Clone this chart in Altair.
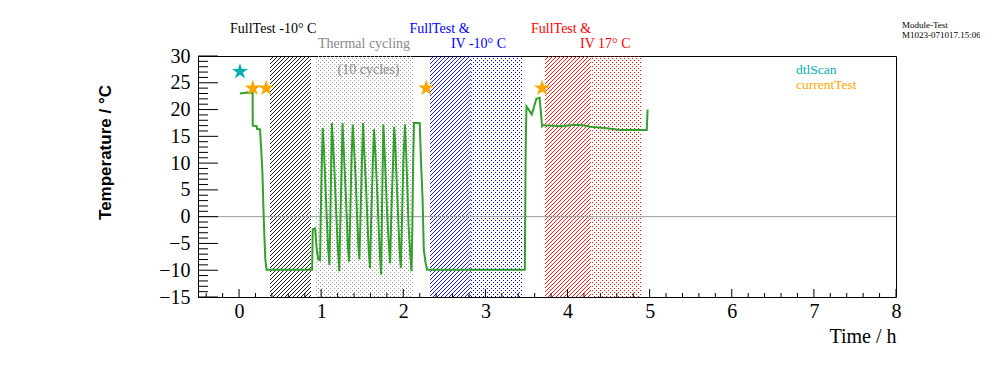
import altair as alt
import numpy as np
import pandas as pd

# ---------------- data ----------------
time_h = [
    0.01, 0.10, 0.165, 0.167, 0.215, 0.217, 0.255, 0.27, 0.285, 0.30, 0.31, 0.32, 0.335,
    0.89, 0.897, 0.926, 0.946, 0.966, 0.987,
    0.995, 1.007, 1.019, 1.035, 1.05, 1.07, 1.085, 1.10,
    1.11, 1.12, 1.13, 1.145, 1.16, 1.18, 1.20, 1.22,
    1.235, 1.25, 1.26, 1.275, 1.29, 1.31, 1.325, 1.34,
    1.355, 1.37, 1.385, 1.40, 1.42, 1.44, 1.455, 1.465,
    1.48, 1.495, 1.51, 1.525, 1.545, 1.565, 1.58, 1.595,
    1.61, 1.63, 1.644, 1.66, 1.68, 1.70, 1.715, 1.73,
    1.74, 1.75, 1.757, 1.77, 1.785, 1.805, 1.825, 1.84,
    1.855, 1.875, 1.89, 1.905, 1.92, 1.94, 1.955, 1.97,
    1.985, 2.00, 2.02, 2.035, 2.05, 2.065, 2.085, 2.10,
    2.11, 2.12, 2.13, 2.20, 2.215, 2.235, 2.25, 2.27, 2.29,
    3.48, 3.49, 3.495, 3.50, 3.565, 3.62, 3.66, 3.69, 3.70,
    3.78, 3.91, 4.07, 4.17, 4.28, 4.48, 4.64, 4.965, 4.975,
]
temp_c = [
    23.0, 23.2, 23.1, 17.0, 16.9, 16.4, 16.3, 12.5, 8.0, 0.0, -4.3, -8.0, -9.9,
    -9.9, -2.4, -2.2, -6.2, -8.0, -8.1,
    0.7, 9.5, 16.6, 12.0, 6.5, -1.0, -6.0, -9.0,
    -2.0, 8.0, 17.5, 13.5, 9.0, 2.0, -5.0, -10.2,
    0.0, 10.0, 17.5, 12.5, 7.5, 0.5, -5.5, -8.4,
    1.0, 11.0, 17.2, 13.0, 7.0, -1.0, -6.0, -8.0,
    0.5, 9.5, 17.5, 12.0, 6.0, -1.5, -6.5, -9.6,
    0.0, 10.5, 16.3, 12.0, 5.5, -2.0, -7.0, -10.8,
    0.5, 10.0, 17.2, 13.0, 7.5, 0.0, -5.5, -8.7,
    1.0, 10.0, 16.8, 12.5, 6.5, -1.0, -6.5, -9.6,
    0.0, 10.0, 17.2, 12.0, 5.0, -2.0, -7.0, -10.2,
    -2.0, 10.0, 17.5, 17.5, 10.6, 3.2, -6.2, -8.5, -9.9,
    -9.9, 12.5, 16.9, 20.6, 19.1, 22.0, 22.2, 16.9, 17.1,
    17.0, 16.9, 17.1, 17.1, 16.8, 16.5, 16.2, 16.2, 20.0,
]

scan_t = [0.011]
scan_T = [27.1]
current_t = [0.167, 0.33, 2.28, 3.69]
current_T = [24.0, 24.0, 24.0, 24.0]

region_start = [0.377, 0.925, 2.325, 2.824, 3.726, 4.286]
region_end = [0.876, 2.130, 2.824, 3.458, 4.286, 4.919]
region_color = ["#000000", "#999999", "#0000ff", "#0000ff", "#ff0000", "#ff0000"]
region_style = ["diag", "dots", "diag", "dots", "diag", "dots"]

x_tick_values = [0, 1, 2, 3, 4, 5, 6, 7, 8]
y_tick_values = [-15, -10, -5, 0, 5, 10, 15, 20, 25, 30]

ann_text = ["FullTest -10° C", "Thermal cycling", "(10 cycles)", "FullTest &", "IV -10° C",
            "FullTest &", "IV 17° C", "dtlScan", "currentTest", "Module-Test", "M1023-071017.15:06"]
ann_t = [-0.110, 0.961, 1.200, 2.075, 2.580, 3.555, 4.152, 6.782, 6.782, 8.073, 8.073]
ann_T = [35.1, 32.3, 27.4, 35.1, 32.3, 35.1, 32.3, 27.4, 24.6, 35.8, 33.9]
ann_color = ["#000000", "#888888", "#888888", "#0000ff", "#0000ff", "#ff0000", "#ff0000",
             "#00b0b0", "#ffa500", "#000000", "#000000"]
ann_size = [14, 14, 14, 14, 14, 14, 14, 13.5, 13.5, 9, 9]

# ---------------- layout ----------------
W, H = 698, 241
X0, X1 = -0.5, 8.0
Y0, Y1 = -15.0, 30.0
pxh = W / (X1 - X0)
pxd = H / (Y1 - Y0)

xs = alt.Scale(domain=[X0, X1], nice=False, zero=False)
ys = alt.Scale(domain=[Y0, Y1], nice=False, zero=False)

SERIF = "Liberation Serif"

x_axis = alt.Axis(values=x_tick_values, ticks=False, tickSize=0, domain=False, grid=False,
                  labelFont=SERIF, labelFontSize=20, labelColor="black", labelPadding=4,
                  labelFlush=False, labelOverlap=False,
                  title="Time / h", titleFont=SERIF, titleFontSize=20, titleFontWeight="normal",
                  titleColor="black", titleX=W, titleY=45, titleAlign="right",
                  titleBaseline="alphabetic", titleAnchor="end")
y_axis = alt.Axis(values=y_tick_values, ticks=False, tickSize=0, domain=False, grid=False,
                  labelFont=SERIF, labelFontSize=20, labelColor="black", labelPadding=8,
                  labelFlush=False, labelOverlap=False, labelBaseline="middle",
                  title="Temperature / °C", titleFont="Liberation Sans", titleFontSize=17,
                  titleFontWeight="bold", titleColor="black", titleAngle=270,
                  titleX=-88, titleY=96, titleAlign="center", titleBaseline="alphabetic")


def X(field="t"):
    return alt.X(f"{field}:Q", scale=xs, axis=x_axis)


def Y(field="T"):
    return alt.Y(f"{field}:Q", scale=ys, axis=y_axis)


# hatch textures for the shaded periods
diag_rows, dot_rows = [], []
for t0, t1, col, sty in zip(region_start, region_end, region_color, region_style):
    if sty == "diag":
        k = pxh / pxd
        span = (Y1 - Y0) / k
        step = 4.0 / pxh
        c = t0 - span
        while c < t1:
            ta, tb = max(c, t0), min(c + span, t1)
            if tb > ta:
                diag_rows.append(dict(t=ta, T=Y0 + k * (ta - c), t2=tb, T2=Y0 + k * (tb - c), col=col))
            c += step
    else:
        p0 = int(np.ceil((t0 - X0) * pxh))
        p1 = int(np.floor((t1 - X0) * pxh))
        for p in range(p0, p1, 2):
            dot_rows.append(dict(t=X0 + (p + 0.5) / pxh, col=col, odd=(p // 2) % 2))

diag_df = pd.DataFrame(diag_rows)
dot_df = pd.DataFrame(dot_rows)

diag_layer = alt.Chart(diag_df).mark_rule(strokeWidth=1.0, opacity=0.9).encode(
    x=X(), y=Y(), x2="t2:Q", y2="T2:Q", color=alt.Color("col:N", scale=None))

dots_even = alt.Chart(dot_df[dot_df.odd == 0]).mark_rule(
    strokeWidth=1, strokeDash=[1, 3], strokeDashOffset=0).encode(
    x=X(), color=alt.Color("col:N", scale=None))
dots_odd = alt.Chart(dot_df[dot_df.odd == 1]).mark_rule(
    strokeWidth=1, strokeDash=[1, 3], strokeDashOffset=2).encode(
    x=X(), color=alt.Color("col:N", scale=None))

zero_layer = alt.Chart(pd.DataFrame({"T": [0.0]})).mark_rule(color="#999999", strokeWidth=1).encode(
    y=Y())

line_df = pd.DataFrame({"t": time_h, "T": temp_c})
line_layer = alt.Chart(line_df).mark_line(color="#33a02c", strokeWidth=2).encode(x=X(), y=Y())

STAR = ("M0,-1L0.2245,-0.309L0.951,-0.309L0.363,0.118L0.588,0.809L0,0.382"
        "L-0.588,0.809L-0.363,0.118L-0.951,-0.309L-0.2245,-0.309Z")
scan_layer = alt.Chart(pd.DataFrame({"t": scan_t, "T": scan_T})).mark_point(
    shape=STAR, size=290, filled=True, color="#00b0b0", opacity=1).encode(x=X(), y=Y())
cur_layer = alt.Chart(pd.DataFrame({"t": current_t, "T": current_T})).mark_point(
    shape=STAR, size=290, filled=True, color="#ffa500", opacity=1).encode(x=X(), y=Y())

# inward tick marks (ROOT style)
y_major = pd.DataFrame({"T": y_tick_values})
y_minor = pd.DataFrame({"T": [v for v in range(-15, 31) if v % 5 != 0]})
x_major = pd.DataFrame({"t": x_tick_values})
x_minor = pd.DataFrame({"t": [round(v, 2) for v in np.arange(-0.4, 8.0, 0.2) if abs(v - round(v)) > 1e-6]})

ytick_major = alt.Chart(y_major).mark_rule(color="black", strokeWidth=1).encode(
    y=Y(), x=alt.value(0), x2=alt.value(20))
ytick_minor = alt.Chart(y_minor).mark_rule(color="black", strokeWidth=1).encode(
    y=Y(), x=alt.value(0), x2=alt.value(10))
xtick_major = alt.Chart(x_major).mark_rule(color="black", strokeWidth=1).encode(
    x=X(), y=alt.value(H), y2=alt.value(H - 8))
xtick_minor = alt.Chart(x_minor).mark_rule(color="black", strokeWidth=1).encode(
    x=X(), y=alt.value(H), y2=alt.value(H - 4))

ann_df = pd.DataFrame({"txt": ann_text, "t": ann_t, "T": ann_T, "col": ann_color, "fs": ann_size})
text_layer = alt.Chart(ann_df).mark_text(align="left", baseline="middle", font=SERIF).encode(
    x=X(), y=Y(), text="txt:N", color=alt.Color("col:N", scale=None),
    size=alt.Size("fs:Q", scale=None))

chart = alt.layer(
    diag_layer, dots_even, dots_odd, zero_layer, line_layer, scan_layer, cur_layer,
    ytick_major, ytick_minor, xtick_major, xtick_minor, text_layer,
).properties(
    width=W, height=H,
    autosize=alt.AutoSizeParams(type="none"),
    padding={"left": 190, "top": 48, "right": 84, "bottom": 60},
).configure_view(stroke="black", strokeWidth=1)

chart.save("out.html", embed_options={"renderer": "svg", "actions": False})
